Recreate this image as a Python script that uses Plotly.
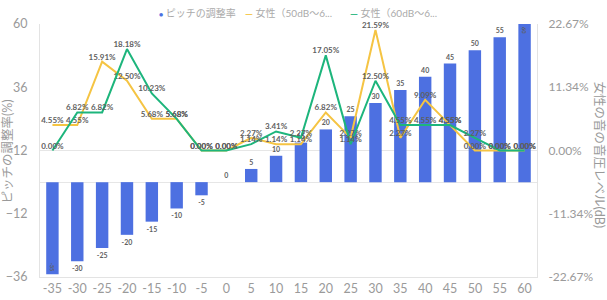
import plotly.graph_objects as go

categories = ["-35", "-30", "-25", "-20", "-15", "-10", "-5", "0", "5", "10",
              "15", "20", "25", "30", "35", "40", "45", "50", "55", "60"]
pitch_rate = [-35, -30, -25, -20, -15, -10, -5, 0, 5, 10,
              15, 20, 25, 30, 35, 40, 45, 50, 55, 60]
female_50_60 = [4.55, 4.55, 15.91, 12.50, 5.68, 5.68, 0.00, 0.00, 2.27, 1.14,
                1.14, 6.82, 2.27, 21.59, 2.27, 9.09, 4.55, 0.00, 0.00, 0.00]
female_60_70 = [0.00, 6.82, 6.82, 18.18, 10.23, 5.68, 0.00, 0.00, 1.14, 3.41,
                2.27, 17.05, 1.14, 12.50, 4.55, 4.55, 4.55, 2.27, 0.00, 0.00]
series_names = ["ピッチの調整率", "女性（50dB～6...", "女性（60dB～6..."]
left_ticks = [-36, -12, 12, 36, 60]
right_ticks = [-22.67, -11.335, 0, 11.335, 22.67]
right_ticktext = ["-22.67%", "-11.34%", "0.00%", "11.34%", "22.67%"]

BLUE = "#4D70E1"
YELLOW = "#F5C443"
GREEN = "#1DB57C"
GRAY = "#9a9a9a"
LEG = "#aaaaaa"
LABEL = "#5f5f5f"
FONT = "Lato, Noto Sans CJK JP, sans-serif"

# plot-area geometry (pixels) used to place the hand-made legend/titles
W, H = 607, 300
ML, MR, MT, MB = 40, 70, 24, 23
PW, PH = W - ML - MR, H - MT - MB


def px_x(px):
    return (px - ML) / PW


def px_y(py):
    return (H - MB - py) / PH


fig = go.Figure()

n = len(categories)
textpos = ["outside"] * n
textpos[0] = "inside"
textpos[-1] = "inside"

fig.add_trace(go.Bar(
    x=categories, y=pitch_rate, name=series_names[0],
    marker=dict(color=BLUE, line=dict(width=0)),
    text=[str(v) for v in pitch_rate], textposition=textpos,
    insidetextanchor="end",
    textfont=dict(size=7, color=LABEL, family=FONT, weight="bold"),
    cliponaxis=False, showlegend=False, yaxis="y",
))
fig.add_trace(go.Scatter(
    x=categories, y=female_50_60, name=series_names[1],
    mode="lines+text", line=dict(color=YELLOW, width=2),
    text=[f"{v:.2f}%" for v in female_50_60], textposition="top center",
    textfont=dict(size=8, color=LABEL, family=FONT, weight="bold"),
    yaxis="y2", cliponaxis=False, showlegend=False,
))
fig.add_trace(go.Scatter(
    x=categories, y=female_60_70, name=series_names[2],
    mode="lines+text", line=dict(color=GREEN, width=2),
    text=[f"{v:.2f}%" for v in female_60_70], textposition="top center",
    textfont=dict(size=8, color=LABEL, family=FONT, weight="bold"),
    yaxis="y2", cliponaxis=False, showlegend=False,
))

legend_items = [
    (157, BLUE, "●", 7, series_names[0]),
    (243, YELLOW, "—", 10, series_names[1]),
    (348, GREEN, "—", 10, series_names[2]),
]
annotations = []
for px, col, sym, ss, name in legend_items:
    annotations.append(dict(
        text=f"<span style='color:{col};font-size:{ss}px'><b>{sym}</b></span> {name}",
        xref="paper", yref="paper", x=px_x(px), y=px_y(13),
        xanchor="left", yanchor="middle", showarrow=False,
        font=dict(size=10, color=LEG, family=FONT),
    ))
annotations += [
    dict(text="ピッチの調整率(%)", xref="paper", yref="paper",
         x=px_x(-3), y=px_y(152), xanchor="left", yanchor="middle",
         textangle=-90, showarrow=False,
         font=dict(size=12.5, color=GRAY, family=FONT)),
    dict(text="女性の音の音圧レベル(dB)", xref="paper", yref="paper",
         x=px_x(609), y=px_y(155), xanchor="right", yanchor="middle",
         textangle=90, showarrow=False,
         font=dict(size=12.5, color=GRAY, family=FONT)),
]

fig.update_layout(
    width=W, height=H,
    margin=dict(l=ML, r=MR, t=MT, b=MB, autoexpand=False),
    paper_bgcolor="white", plot_bgcolor="white",
    font=dict(family=FONT, color=GRAY, size=12),
    bargap=0.5, showlegend=False,
    xaxis=dict(
        type="category", range=[-0.5, n - 0.5], automargin=False,
        showgrid=False, showline=True, linecolor="#e3e3e3", linewidth=1,
        ticks="", tickfont=dict(size=12.5, color=GRAY), ticklabelstandoff=0,
    ),
    yaxis=dict(
        range=[-36, 60], tickvals=left_ticks, showgrid=False, automargin=False,
        zeroline=True, zerolinecolor="#e6e6e6", zerolinewidth=1,
        showline=True, linecolor="#e3e3e3", linewidth=1,
        tickfont=dict(size=12.5, color=GRAY), ticks="", ticklabelstandoff=9,
    ),
    yaxis2=dict(
        range=[-22.67, 22.67], tickvals=right_ticks, ticktext=right_ticktext,
        overlaying="y", side="right", showgrid=False, automargin=False,
        zeroline=True, zerolinecolor="#e6e6e6", zerolinewidth=1,
        showline=True, linecolor="#e3e3e3", linewidth=1,
        tickfont=dict(size=12, color=GRAY), ticks="", ticklabelstandoff=8,
    ),
    annotations=annotations,
)

fig.write_html("out.html")
